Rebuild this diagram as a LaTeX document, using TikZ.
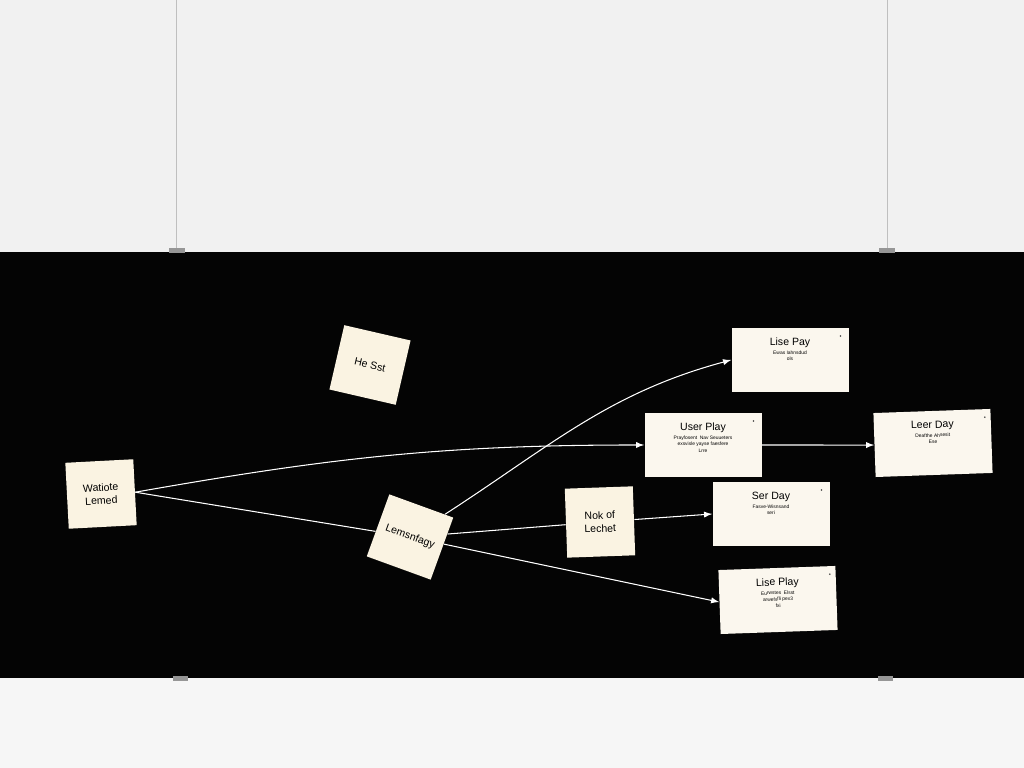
\documentclass[tikz,border=0pt]{standalone}
\usepackage{fontspec}
\setmainfont{Liberation Sans}
\usetikzlibrary{arrows}

\definecolor{wall}{RGB}{241,241,241}
\definecolor{floorwall}{RGB}{246,246,246}
\definecolor{board}{RGB}{4,4,4}
\definecolor{paper}{RGB}{251,247,238}
\definecolor{sticky}{RGB}{250,243,226}
\definecolor{hanger}{RGB}{150,150,150}

\newcommand{\cardtext}[2]{\begin{minipage}[t][1.28cm][t]{2.3cm}\centering\vspace{0.2cm}{\fontsize{6}{7}\selectfont #1\par}\vspace{1.5pt}{\fontsize{2.8}{3.6}\selectfont #2\par}\end{minipage}}

\tikzset{
  note/.style={fill=sticky, inner sep=0pt, minimum width=1.36cm, minimum height=1.32cm, align=center, font=\fontsize{6}{7.5}\selectfont},
  card/.style={fill=paper, inner sep=0pt, minimum width=2.34cm, minimum height=1.28cm,
    path picture={\fill[black!75] (path picture bounding box.north east) ++(-0.16,-0.16) circle (0.5pt);}},
  link/.style={draw=white, line width=0.6pt},
  wire/.style={draw=black!25, line width=0.4pt}
}

\begin{document}
\begin{tikzpicture}
			\useasboundingbox (0,0) rectangle (20.48,15.36);
			% wall and board
			\fill[wall] (0,10.32) rectangle (20.48,15.36);
			\fill[floorwall] (0,0) rectangle (20.48,1.80);
			\fill[board] (0,1.80) rectangle (20.48,10.32);
			\draw[wire] (3.52,10.32) -- (3.52,15.36);
			\draw[wire] (17.74,10.32) -- (17.74,15.36);
			\fill[hanger] (3.38,10.30) rectangle (3.70,10.40);
			\fill[hanger] (17.58,10.30) rectangle (17.90,10.40);
			\fill[hanger] (3.46,1.74) rectangle (3.76,1.84);
			\fill[hanger] (17.56,1.74) rectangle (17.86,1.84);

			% notes
			\node[note, rotate=3] (wat) at (2.02,5.48) {Watiote\\Lemed};
			\node[note, rotate=-13] (hesst) at (7.40,8.06) {He Sst};
			\node[note, rotate=-20] (lem) at (8.20,4.62) {Lemsnfagy};
			\node[note, rotate=2, minimum height=1.38cm] (nok) at (12.00,4.92) {Nok of\\Lechet};

			% cards
			\node[card] (lisea) at (15.80,8.16) {\cardtext{Lise Pay}{Ewas Iahnsdud\\ols}};
			\node[card] (user) at (14.06,6.46) {\cardtext{User Play}{Prayfosent\ \ Nav Seuueters\\exsvisle yayse faesfere\\Lrre}};
			\node[card, rotate=2] (leer) at (18.66,6.50) {\cardtext{Leer Day}{Deafthe Ahsesit\\Ese}};
			\node[card] (ser) at (15.42,5.08) {\cardtext{Ser Day}{Fasve-Wisnsand\\seri}};
			\node[card, rotate=2] (liseb) at (15.56,3.36) {\cardtext{Lise Play}{Eurwstes\ \ Elsst\\arwefsfli pex3\\fxi}};

			\draw[link,->,>=latex] (wat.east) to[out=10,in=180] (user.west);
			\draw[link] (wat.east) -- (lem);
			\draw[link,->,>=latex] (lem) to[out=38,in=195] (lisea.west);
			\draw[link] (lem) -- (nok);
			\draw[link,->,>=latex] (nok) -- (ser.west);
			\draw[link,->,>=latex] (lem) -- (liseb.west);
			\draw[link,->,>=latex] (user) -- (leer.west);
	\end{tikzpicture}
\end{document}
